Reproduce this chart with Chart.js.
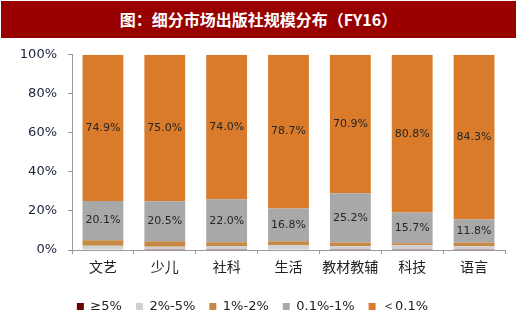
<!DOCTYPE html>
<html>
<head>
<meta charset="utf-8">
<script src="https://cdn.jsdelivr.net/npm/chart.js@4"></script>
<style>
  html,body{margin:0;padding:0;background:#fff;}
  #wrap{width:520px;height:323px;position:relative;}
  #title{position:absolute;left:1px;top:1px;width:515px;height:37px;background:#990000;color:#fff;
    font:bold 16px "Noto Sans CJK SC",sans-serif;text-align:center;line-height:37px;}
  #box{position:absolute;left:0;top:36px;width:520px;height:287px;}
</style>
</head>
<body>
<div id="wrap">
  <div id="title">图：细分市场出版社规模分布（FY16）</div>
  <div id="box"><canvas id="c"></canvas></div>
</div>
<script>
// categories and stacked shares (%), bottom to top
const categories = ['文艺','少儿','社科','生活','教材教辅','科技','语言'];
const seriesNames = ['≥5%','2%-5%','1%-2%','0.1%-1%','＜0.1%'];
const ge5   = [0.2,0.1,0.1,0.2,0.1,0.1,0.1];
const p2to5 = [2.0,1.6,1.9,2.2,1.8,2.3,1.8];
const p1to2 = [2.8,2.8,2.0,2.1,2.0,1.1,2.0];
const p01to1 = [20.1,20.5,22.0,16.8,25.2,15.7,11.8];
const lt01  = [74.9,75.0,74.0,78.7,70.9,80.8,84.3];
const yTicks = [0,20,40,60,80,100];

const colors = ['#6B0000','#D0D0D0','#C68A47','#A8A8A8','#D97B2B'];
const seriesData = [ge5,p2to5,p1to2,p01to1,lt01];

// draw values on the two big segments
const barLabels = {
  id:'barLabels',
  afterDatasetsDraw(chart){
    const ctx = chart.ctx;
    ctx.save();
    ctx.font = '11px "DejaVu Sans", sans-serif';
    ctx.fillStyle = '#262626';
    ctx.textAlign = 'center';
    ctx.textBaseline = 'middle';
    [3,4].forEach(di=>{
      const meta = chart.getDatasetMeta(di);
      meta.data.forEach((bar,i)=>{
        const v = chart.data.datasets[di].data[i];
        const y = (bar.y + bar.base)/2;
        ctx.fillText(v.toFixed(1)+'%', bar.x, y);
      });
    });
    ctx.restore();
  }
};

new Chart(document.getElementById('c'),{
  type:'bar',
  data:{
    labels:categories,
    datasets:seriesNames.map((n,i)=>({
      label:n,
      data:seriesData[i],
      backgroundColor:colors[i],
      borderWidth:0,
      barPercentage:0.66,
      categoryPercentage:1.0
    }))
  },
  options:{
    responsive:true,
    maintainAspectRatio:false,
    animation:false,
    layout:{padding:{left:0,right:15,top:13,bottom:0}},
    plugins:{
      legend:{
        position:'bottom',
        labels:{
          boxWidth:7,boxHeight:7,padding:14,
          color:'#222',
          font:{size:13,family:'"DejaVu Sans", sans-serif'}
        }
      },
      tooltip:{enabled:false}
    },
    scales:{
      x:{
        stacked:true,
        grid:{display:true,drawOnChartArea:false,offset:true,color:'#999',tickLength:4},
        border:{color:'#999'},
        ticks:{color:'#222',font:{size:14,family:'"Noto Sans CJK SC", sans-serif'},padding:4,
          maxRotation:0,minRotation:0,autoSkip:false},
        afterFit(s){ s.height = 36; }
      },
      y:{
        stacked:true,
        min:0,max:100,
        afterBuildTicks(s){ s.ticks = yTicks.map(v=>({value:v})); },
        grid:{display:true,drawOnChartArea:false,color:'#999',tickLength:4},
        border:{color:'#999'},
        ticks:{color:'#17213a',font:{size:13,family:'"DejaVu Sans", sans-serif'},padding:11,
          callback:v=>v+'%'},
        afterFit(s){ s.width = 72; }
      }
    }
  },
  plugins:[barLabels]
});
</script>
</body>
</html>
